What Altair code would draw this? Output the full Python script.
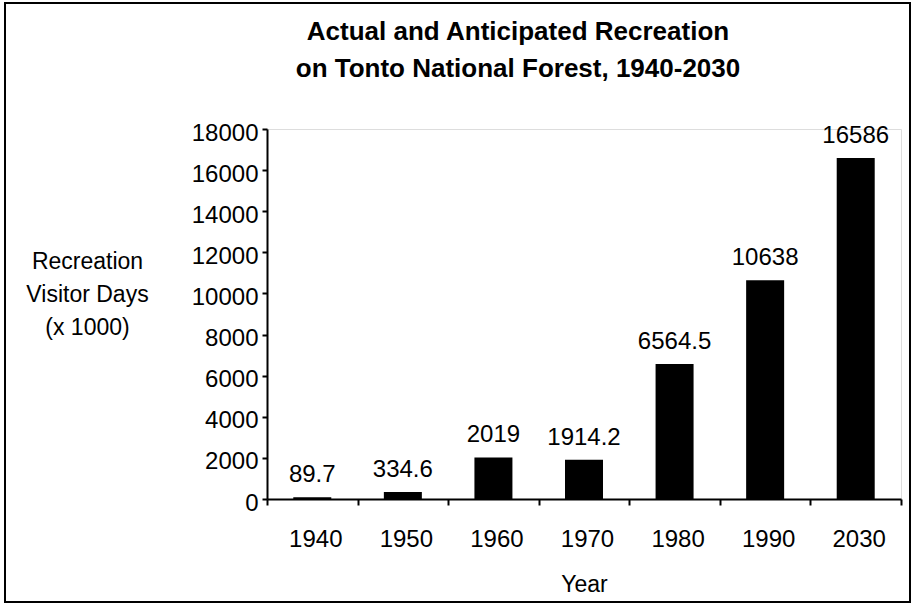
import altair as alt
import pandas as pd

years = ["1940", "1950", "1960", "1970", "1980", "1990", "2030"]
visitor_days = [89.7, 334.6, 2019, 1914.2, 6564.5, 10638, 16586]
value_labels = ["89.7", "334.6", "2019", "1914.2", "6564.5", "10638", "16586"]
y_ticks = [0, 2000, 4000, 6000, 8000, 10000, 12000, 14000, 16000, 18000]

df = pd.DataFrame({"year": years, "days": visitor_days, "label": value_labels})

FONT = "Liberation Sans"
W, H = 634, 370

x_enc = alt.X(
    "year:N",
    sort=years,
    scale=alt.Scale(paddingInner=0, paddingOuter=0),
    axis=alt.Axis(
        title="Year",
        titleFont=FONT, titleFontSize=23, titleFontWeight="normal", titleColor="black",
        titlePadding=22,
        labelFont=FONT, labelFontSize=24, labelColor="black", labelAngle=0,
        labelPadding=22, labelOffset=3,
        tickBand="extent", tickSize=6, tickWidth=2, tickColor="black",
        domainColor="black", domainWidth=2, grid=False,
    ),
)
y_enc = alt.Y(
    "days:Q",
    scale=alt.Scale(domain=[0, 18000], nice=False),
    axis=alt.Axis(
        values=y_ticks, format="d",
        title=["Recreation", "Visitor Days", "(x 1000)"],
        titleFont=FONT, titleFontSize=23, titleFontWeight="normal", titleColor="black",
        titleAngle=0, titleAlign="center", titleBaseline="alphabetic",
        titleX=-180, titleY=139, titleLineHeight=33,
        labelFont=FONT, labelFontSize=24, labelColor="black",
        labelPadding=4, labelOffset=4,
        tickSize=5, tickWidth=2, tickColor="black",
        domainColor="black", domainWidth=2, grid=False,
    ),
)

bars = alt.Chart(df).mark_bar(color="black", width=38).encode(x=x_enc, y=y_enc)

texts = alt.Chart(df).mark_text(
    font=FONT, fontSize=24, color="black", baseline="alphabetic", dy=-15
).encode(x=alt.X("year:N", sort=years), y="days:Q", text="label:N")

frame = alt.Chart(pd.DataFrame({"a": [0]})).mark_rect(
    fill=None, stroke="black", strokeWidth=2
).encode(
    x=alt.value(-262), x2=alt.value(643), y=alt.value(-126), y2=alt.value(473)
)

chart = alt.layer(bars, texts, frame).properties(
    width=W,
    height=H,
    title=alt.TitleParams(
        text=["Actual and Anticipated Recreation", "on Tonto National Forest, 1940-2030"],
        font=FONT, fontSize=26, fontWeight="bold", color="black",
        anchor="middle", dx=-66, offset=-80, lineHeight=37,
    ),
    padding={"left": 267, "top": 129, "right": 14, "bottom": 107},
    autosize=alt.AutoSizeParams(type="none"),
).configure_view(stroke=None).configure(background="white")

chart.save("out.html", embed_options={"renderer": "svg", "actions": False})
